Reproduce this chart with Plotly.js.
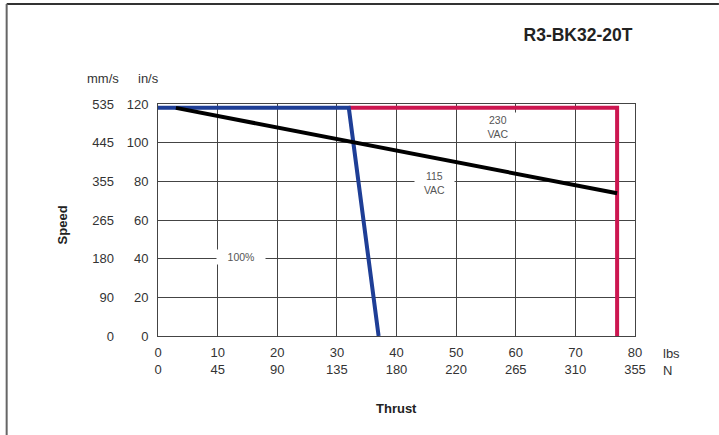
<!DOCTYPE html>
<html><head><meta charset="utf-8">
<script src="https://cdn.plot.ly/plotly-3.0.1.min.js"></script>
<style>html,body{margin:0;padding:0;background:#fff}#chart{width:719px;height:435px}</style>
</head><body><div id="chart"></div>
<script>
// Data
const thrustTicksLbs = [0,10,20,30,40,50,60,70,80];
const thrustTicksN = ['0','45','90','135','180','220','265','310','355'];
const speedTicksIn = [0,20,40,60,80,100,120];
const speedTicksMm = ['0','90','180','265','355','445','535'];
const curve100X = [0,32,37];
const curve100Y = [118,118,0];
const curve230X = [32,77,77];
const curve230Y = [118,118,0];
const curve115X = [3,77];
const curve115Y = [118,73.8];

const W=719,H=435,L=157.5,R=635,T=104.4,B=336;
const px=(x)=>(x-L)/(R-L), py=(y)=>(B-y)/(B-T);
const font='Liberation Sans, Arial, sans-serif';
const ann=(x,y,text,extra)=>Object.assign({xref:'paper',yref:'paper',x:px(x),y:py(y),text:text,showarrow:false,xanchor:'center',yanchor:'middle',font:{size:13,color:'#333'}},extra||{});

const traces=[
 {x:curve230X,y:curve230Y,mode:'lines',line:{color:'#cc1650',width:4},hoverinfo:'skip'},
 {x:curve100X,y:curve100Y,mode:'lines',line:{color:'#1e3e96',width:4},hoverinfo:'skip'},
 {x:curve115X,y:curve115Y,mode:'lines',line:{color:'#000',width:4},hoverinfo:'skip'},
 {x:[0],y:[0],yaxis:'y2',mode:'markers',marker:{opacity:0},hoverinfo:'skip'}
];
const layout={
 width:W,height:H,showlegend:false,
 paper_bgcolor:'#fff',plot_bgcolor:'#fff',
 margin:{l:L,r:W-R,t:T,b:H-B,autoexpand:false},
 font:{family:font,size:13,color:'#333'},
 title:{text:'<b>R3-BK32-20T</b>',x:578/W,xanchor:'center',xref:'container',y:1-35/H,yref:'container',yanchor:'middle',font:{family:font,size:17.5,color:'#222'}},
 xaxis:{range:[0,80],tickvals:thrustTicksLbs,ticktext:thrustTicksLbs.map((v,i)=>v+'<br>'+thrustTicksN[i]),
   showgrid:true,gridcolor:'#444',gridwidth:1,zeroline:false,showline:true,mirror:true,linecolor:'#444',linewidth:1,
   ticks:'',ticklabelstandoff:4,tickfont:{size:13,color:'#333'},fixedrange:true},
 yaxis:{range:[0,120],tickvals:speedTicksIn,ticktext:speedTicksIn.map(String),
   showgrid:true,gridcolor:'#444',gridwidth:1,zeroline:false,showline:true,mirror:true,linecolor:'#444',linewidth:1,
   ticks:'',ticklabelstandoff:6,tickfont:{size:13,color:'#333'},fixedrange:true},
 yaxis2:{range:[0,120],overlaying:'y',side:'left',anchor:'free',position:0,tickvals:speedTicksIn,ticktext:speedTicksMm,
   showgrid:false,zeroline:false,showline:false,ticks:'',ticklabelstandoff:44,tickfont:{size:13,color:'#333'},fixedrange:true},
 annotations:[
  {xref:'x',yref:'y',x:57,y:108,text:'230<br>VAC',showarrow:false,bgcolor:'#fff',width:34,font:{size:10.5,color:'#555'}},
  {xref:'x',yref:'y',x:46.3,y:79,text:'115<br>VAC',showarrow:false,bgcolor:'#fff',width:37,font:{size:10.5,color:'#555'}},
  {xref:'x',yref:'y',x:14,y:40.8,text:'100%',showarrow:false,bgcolor:'#fff',width:46,font:{size:10.5,color:'#555'}},
  ann(62,225,'<b>Speed</b>',{textangle:-90,font:{size:13,color:'#222'}}),
  ann(396,408,'<b>Thrust</b>',{font:{size:13,color:'#222'}}),
  ann(102,79,'mm/s'),
  ann(148,79,'in/s'),
  ann(661,353,'lbs',{xanchor:'left'}),
  ann(661,370,'N',{xanchor:'left'})
 ],
 shapes:[
  {type:'line',xref:'paper',yref:'paper',x0:px(6),x1:px(719),y0:py(4.5),y1:py(4.5),line:{color:'#333',width:2}},
  {type:'line',xref:'paper',yref:'paper',x0:px(6),x1:px(6),y0:py(4.5),y1:py(435),line:{color:'#666',width:2}}
 ]
};
Plotly.newPlot('chart',traces,layout,{displayModeBar:false,staticPlot:true});
</script></body></html>
